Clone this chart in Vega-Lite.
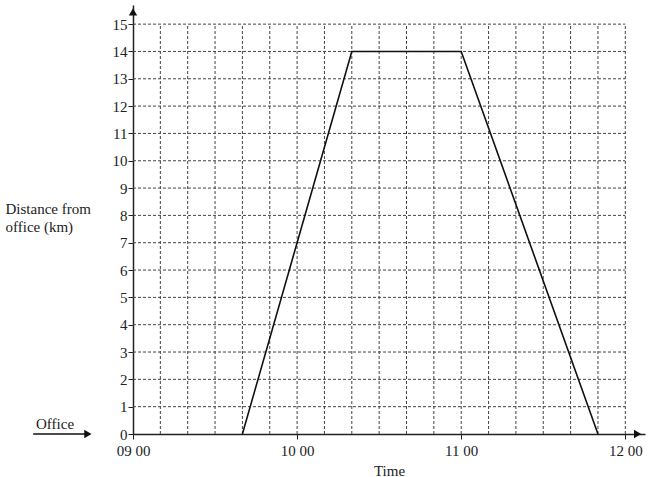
{
  "$schema": "https://vega.github.io/schema/vega-lite/v6.json",
  "width": 512,
  "height": 429,
  "autosize": {"type": "none"},
  "padding": {"left": 133, "top": 5, "right": 8, "bottom": 43},
  "background": "white",
  "config": {
    "view": {"stroke": null},
    "font": "Liberation Serif, serif",
    "text": {"font": "Liberation Serif, serif"},
    "axis": {"labelFont": "Liberation Serif, serif", "titleFont": "Liberation Serif, serif", "labelFontSize": 15, "titleFontSize": 15, "labelColor": "#222", "titleColor": "#222", "titleFontWeight": "normal", "grid": false, "domainColor": "#222", "domainWidth": 1.5, "tickColor": "#222", "tickSize": 5, "labelOverlap": false, "labelFlush": false},
    "axisY": {"labelFont": "Liberation Serif, serif", "labelFontSize": 15, "labelOverlap": false, "tickCount": 16}
  },
  "layer": [
    {
      "data": {"values": [{"d":1},{"d":2},{"d":3},{"d":4},{"d":5},{"d":6},{"d":7},{"d":8},{"d":9},{"d":10},{"d":11},{"d":12},{"d":13},{"d":14},{"d":15}]},
      "mark": {"type": "rule", "color": "#444", "strokeDash": [3, 2], "strokeWidth": 1},
      "encoding": {
        "y": {"field": "d", "type": "quantitative", "scale": {"domain": [0, 15.7], "nice": false}, "axis": {"values": [0,1,2,3,4,5,6,7,8,9,10,11,12,13,14,15], "tickCount": 16, "labelOverlap": false, "labelFontSize": 15, "labelFont": "Liberation Serif, serif", "title": ["Distance from", "office (km)"], "titleAngle": 0, "titleAlign": "left", "titleBaseline": "alphabetic", "titleX": -128, "titleY": 208, "titleLineHeight": 18, "labelPadding": 1}},
        "x": {"datum": 0, "type": "quantitative", "scale": {"domain": [0, 187.2], "nice": false, "zero": false}, "axis": {"values": [0, 60, 120, 180], "labelExpr": "['09 00','10 00','11 00','12 00'][datum.value/60]", "title": "Time", "titlePadding": 5, "labelPadding": 4, "tickSize": 5}},
        "x2": {"datum": 180}
      }
    },
    {
      "data": {"values": [{"t":10},{"t":20},{"t":30},{"t":40},{"t":50},{"t":60},{"t":70},{"t":80},{"t":90},{"t":100},{"t":110},{"t":120},{"t":130},{"t":140},{"t":150},{"t":160},{"t":170},{"t":180}]},
      "mark": {"type": "rule", "color": "#444", "strokeDash": [3, 2], "strokeWidth": 1},
      "encoding": {
        "x": {"field": "t", "type": "quantitative", "scale": {"domain": [0, 187.2], "nice": false, "zero": false}, "axis": {"values": [0, 60, 120, 180], "labelExpr": "['09 00','10 00','11 00','12 00'][datum.value/60]", "title": "Time", "titlePadding": 5, "labelPadding": 4, "tickSize": 5}},
        "y": {"datum": 0, "type": "quantitative", "scale": {"domain": [0, 15.7], "nice": false}, "axis": {"values": [0,1,2,3,4,5,6,7,8,9,10,11,12,13,14,15], "tickCount": 16, "labelOverlap": false, "labelFontSize": 15, "labelFont": "Liberation Serif, serif", "title": ["Distance from", "office (km)"], "titleAngle": 0, "titleAlign": "left", "titleBaseline": "alphabetic", "titleX": -128, "titleY": 208, "titleLineHeight": 18, "labelPadding": 1}},
        "y2": {"datum": 15}
      }
    },
    {
      "data": {"values": [{"t":40,"km":0},{"t":80,"km":14},{"t":120,"km":14},{"t":170,"km":0}]},
      "mark": {"type": "line", "color": "#111", "strokeWidth": 1.6},
      "encoding": {
        "x": {"field": "t", "type": "quantitative", "scale": {"domain": [0, 187.2], "nice": false, "zero": false}, "axis": {"values": [0, 60, 120, 180], "labelExpr": "['09 00','10 00','11 00','12 00'][datum.value/60]", "title": "Time", "titlePadding": 5, "labelPadding": 4, "tickSize": 5}},
        "y": {"field": "km", "type": "quantitative", "scale": {"domain": [0, 15.7], "nice": false}, "axis": {"values": [0,1,2,3,4,5,6,7,8,9,10,11,12,13,14,15], "tickCount": 16, "labelOverlap": false, "labelFontSize": 15, "labelFont": "Liberation Serif, serif", "title": ["Distance from", "office (km)"], "titleAngle": 0, "titleAlign": "left", "titleBaseline": "alphabetic", "titleX": -128, "titleY": 208, "titleLineHeight": 18, "labelPadding": 1}}
      }
    },
    {
      "data": {"values": [{"t":0,"km":15.45,"s":"triangle-up"},{"t":184.5,"km":0,"s":"triangle-right"},{"t":-16.5,"km":0,"s":"triangle-right"}]},
      "mark": {"type": "point", "filled": true, "color": "#111", "opacity": 1, "size": 70},
      "encoding": {
        "x": {"field": "t", "type": "quantitative", "scale": {"domain": [0, 187.2], "nice": false, "zero": false}, "axis": {"values": [0, 60, 120, 180], "labelExpr": "['09 00','10 00','11 00','12 00'][datum.value/60]", "title": "Time", "titlePadding": 5, "labelPadding": 4, "tickSize": 5}},
        "y": {"field": "km", "type": "quantitative", "scale": {"domain": [0, 15.7], "nice": false}, "axis": {"values": [0,1,2,3,4,5,6,7,8,9,10,11,12,13,14,15], "tickCount": 16, "labelOverlap": false, "labelFontSize": 15, "labelFont": "Liberation Serif, serif", "title": ["Distance from", "office (km)"], "titleAngle": 0, "titleAlign": "left", "titleBaseline": "alphabetic", "titleX": -128, "titleY": 208, "titleLineHeight": 18, "labelPadding": 1}},
        "shape": {"field": "s", "type": "nominal", "scale": null}
      }
    },
    {
      "data": {"values": [{"t":-36.5,"km":0},{"t":-17,"km":0}]},
      "mark": {"type": "line", "color": "#111", "strokeWidth": 1.5},
      "encoding": {
        "x": {"field": "t", "type": "quantitative", "scale": {"domain": [0, 187.2], "nice": false, "zero": false}, "axis": {"values": [0, 60, 120, 180], "labelExpr": "['09 00','10 00','11 00','12 00'][datum.value/60]", "title": "Time", "titlePadding": 5, "labelPadding": 4, "tickSize": 5}},
        "y": {"field": "km", "type": "quantitative", "scale": {"domain": [0, 15.7], "nice": false}, "axis": {"values": [0,1,2,3,4,5,6,7,8,9,10,11,12,13,14,15], "tickCount": 16, "labelOverlap": false, "labelFontSize": 15, "labelFont": "Liberation Serif, serif", "title": ["Distance from", "office (km)"], "titleAngle": 0, "titleAlign": "left", "titleBaseline": "alphabetic", "titleX": -128, "titleY": 208, "titleLineHeight": 18, "labelPadding": 1}}
      }
    },
    {
      "data": {"values": [{"t":-28.5,"km":0.37,"label":"Office"}]},
      "mark": {"type": "text", "font": "Liberation Serif, serif", "fontSize": 15, "color": "#222"},
      "encoding": {
        "x": {"field": "t", "type": "quantitative", "scale": {"domain": [0, 187.2], "nice": false, "zero": false}, "axis": {"values": [0, 60, 120, 180], "labelExpr": "['09 00','10 00','11 00','12 00'][datum.value/60]", "title": "Time", "titlePadding": 5, "labelPadding": 4, "tickSize": 5}},
        "y": {"field": "km", "type": "quantitative", "scale": {"domain": [0, 15.7], "nice": false}, "axis": {"values": [0,1,2,3,4,5,6,7,8,9,10,11,12,13,14,15], "tickCount": 16, "labelOverlap": false, "labelFontSize": 15, "labelFont": "Liberation Serif, serif", "title": ["Distance from", "office (km)"], "titleAngle": 0, "titleAlign": "left", "titleBaseline": "alphabetic", "titleX": -128, "titleY": 208, "titleLineHeight": 18, "labelPadding": 1}},
        "text": {"field": "label"}
      }
    }
  ]
}
